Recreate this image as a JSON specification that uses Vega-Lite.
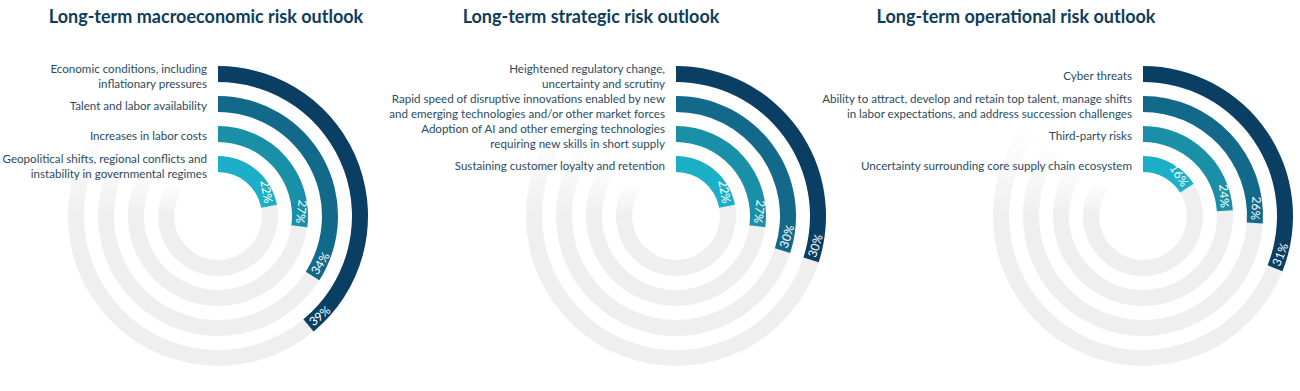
{
  "$schema": "https://vega.github.io/schema/vega-lite/v6.json",
  "padding": {"left": 2, "top": 9, "right": 0, "bottom": 0},
  "bounds": "flush",
  "spacing": 20,
  "config": {
    "view": {"stroke": null},
    "font": "Lato",
    "title": {"font": "Lato", "fontSize": 18, "fontWeight": "bold", "color": "#0e3d5c", "anchor": "middle", "offset": 15, "baseline": "alphabetic"}
  },
  "datasets": {
    "risks": [
      {"chart": "macro", "rank": 1, "label": "Economic conditions, including\ninflationary pressures", "value": 0.39},
      {"chart": "macro", "rank": 2, "label": "Talent and labor availability", "value": 0.34},
      {"chart": "macro", "rank": 3, "label": "Increases in labor costs", "value": 0.27},
      {"chart": "macro", "rank": 4, "label": "Geopolitical shifts, regional conflicts and\ninstability in governmental regimes", "value": 0.22},
      {"chart": "strategic", "rank": 1, "label": "Heightened regulatory change,\nuncertainty and scrutiny", "value": 0.30},
      {"chart": "strategic", "rank": 2, "label": "Rapid speed of disruptive innovations enabled by new\nand emerging technologies and/or other market forces", "value": 0.30},
      {"chart": "strategic", "rank": 3, "label": "Adoption of AI and other emerging technologies\nrequiring new skills in short supply", "value": 0.27},
      {"chart": "strategic", "rank": 4, "label": "Sustaining customer loyalty and retention", "value": 0.22},
      {"chart": "operational", "rank": 1, "label": "Cyber threats", "value": 0.31},
      {"chart": "operational", "rank": 2, "label": "Ability to attract, develop and retain top talent, manage shifts\nin labor expectations, and address succession challenges", "value": 0.26},
      {"chart": "operational", "rank": 3, "label": "Third-party risks", "value": 0.24},
      {"chart": "operational", "rank": 4, "label": "Uncertainty surrounding core supply chain ecosystem", "value": 0.16}
    ]
  },
  "hconcat": [
    {
      "width": 280, "height": 348,
      "data": {"name": "risks"},
      "transform": [{"filter": "datum.chart === 'macro'"}],
      "title": {"text": "Long-term macroeconomic risk outlook", "dx": -12},
      "encoding": {
        "radius": {"field": "rank", "type": "quantitative", "scale": {"type": "linear", "domain": [1, 4], "range": [142, 52]}}
      },
      "layer": [
        {"mark": {"type": "arc", "color": "#efefef", "radiusOffset": 8, "radius2Offset": -8},
         "encoding": {"theta": {"datum": 0, "type": "quantitative", "scale": {"domain": [0, 1], "range": [0, 6.283185307179586]}}, "theta2": {"datum": 0.75}, "radius2": {"field": "rank"}}},
        {"mark": {"type": "arc", "radiusOffset": 8, "radius2Offset": -8, "color": {"gradient": "linear", "x1": 0, "y1": 1, "x2": 0, "y2": 0, "stops": [{"offset": 0, "color": "#efefef"}, {"offset": 1, "color": "#ffffff"}]}},
         "encoding": {"theta": {"datum": 0.75, "type": "quantitative"}, "theta2": {"datum": 0.85}, "radius2": {"field": "rank"}}},
        {"mark": {"type": "arc", "radiusOffset": 8, "radius2Offset": -8},
         "encoding": {"theta": {"field": "value", "type": "quantitative", "stack": null}, "theta2": {"datum": 0}, "radius2": {"field": "rank"},
           "color": {"field": "rank", "type": "ordinal", "scale": {"domain": [1, 2, 3, 4], "range": ["#0a3f63", "#13698a", "#1a8fa8", "#1cb0c8"]}, "legend": null}}},
        {"transform": [{"filter": "!test(/\\n/, datum.label)"}],
         "mark": {"type": "text", "align": "right", "baseline": "middle", "dx": -11, "dy": 3, "lineBreak": "\n", "fontSize": 11.6, "lineHeight": 15, "color": "#2c4b5f"},
         "encoding": {"theta": {"datum": 0, "type": "quantitative"}, "text": {"field": "label"}}},
        {"transform": [{"filter": "test(/\\n/, datum.label)"}],
         "mark": {"type": "text", "align": "right", "baseline": "middle", "dx": -11, "dy": -4, "lineBreak": "\n", "fontSize": 11.6, "lineHeight": 15, "color": "#2c4b5f"},
         "encoding": {"theta": {"datum": 0, "type": "quantitative"}, "text": {"field": "label"}}},
        {"transform": [{"filter": "datum.value <= 0.28"}],
         "mark": {"type": "text", "align": "right", "baseline": "middle", "dx": -3, "fontSize": 12, "color": "#ffffff"},
         "encoding": {"theta": {"field": "value", "type": "quantitative", "stack": null}, "angle": {"field": "value", "type": "quantitative", "scale": {"domain": [0, 1], "range": [0, 360]}}, "text": {"field": "value", "type": "quantitative", "format": ".0%"}}},
        {"transform": [{"filter": "datum.value > 0.28"}],
         "mark": {"type": "text", "align": "left", "baseline": "middle", "dx": 3, "fontSize": 12, "color": "#ffffff"},
         "encoding": {"theta": {"field": "value", "type": "quantitative", "stack": null}, "angle": {"field": "value", "type": "quantitative", "scale": {"domain": [0.5, 1.5], "range": [0, 360]}}, "text": {"field": "value", "type": "quantitative", "format": ".0%"}}}
      ],
      "resolve": {"scale": {"angle": "independent"}}
    },
    {
      "width": 596, "height": 348,
      "data": {"name": "risks"},
      "transform": [{"filter": "datum.chart === 'strategic'"}],
      "title": {"text": "Long-term strategic risk outlook", "dx": -85},
      "encoding": {
        "radius": {"field": "rank", "type": "quantitative", "scale": {"type": "linear", "domain": [1, 4], "range": [142, 52]}}
      },
      "layer": [
        {"mark": {"type": "arc", "color": "#efefef", "radiusOffset": 8, "radius2Offset": -8},
         "encoding": {"theta": {"datum": 0, "type": "quantitative", "scale": {"domain": [0, 1], "range": [0, 6.283185307179586]}}, "theta2": {"datum": 0.75}, "radius2": {"field": "rank"}}},
        {"mark": {"type": "arc", "radiusOffset": 8, "radius2Offset": -8, "color": {"gradient": "linear", "x1": 0, "y1": 1, "x2": 0, "y2": 0, "stops": [{"offset": 0, "color": "#efefef"}, {"offset": 1, "color": "#ffffff"}]}},
         "encoding": {"theta": {"datum": 0.75, "type": "quantitative"}, "theta2": {"datum": 0.85}, "radius2": {"field": "rank"}}},
        {"mark": {"type": "arc", "radiusOffset": 8, "radius2Offset": -8},
         "encoding": {"theta": {"field": "value", "type": "quantitative", "stack": null}, "theta2": {"datum": 0}, "radius2": {"field": "rank"},
           "color": {"field": "rank", "type": "ordinal", "scale": {"domain": [1, 2, 3, 4], "range": ["#0a3f63", "#13698a", "#1a8fa8", "#1cb0c8"]}, "legend": null}}},
        {"transform": [{"filter": "!test(/\\n/, datum.label)"}],
         "mark": {"type": "text", "align": "right", "baseline": "middle", "dx": -11, "dy": 3, "lineBreak": "\n", "fontSize": 11.6, "lineHeight": 15, "color": "#2c4b5f"},
         "encoding": {"theta": {"datum": 0, "type": "quantitative"}, "text": {"field": "label"}}},
        {"transform": [{"filter": "test(/\\n/, datum.label)"}],
         "mark": {"type": "text", "align": "right", "baseline": "middle", "dx": -11, "dy": -4, "lineBreak": "\n", "fontSize": 11.6, "lineHeight": 15, "color": "#2c4b5f"},
         "encoding": {"theta": {"datum": 0, "type": "quantitative"}, "text": {"field": "label"}}},
        {"transform": [{"filter": "datum.value <= 0.28"}],
         "mark": {"type": "text", "align": "right", "baseline": "middle", "dx": -3, "fontSize": 12, "color": "#ffffff"},
         "encoding": {"theta": {"field": "value", "type": "quantitative", "stack": null}, "angle": {"field": "value", "type": "quantitative", "scale": {"domain": [0, 1], "range": [0, 360]}}, "text": {"field": "value", "type": "quantitative", "format": ".0%"}}},
        {"transform": [{"filter": "datum.value > 0.28"}],
         "mark": {"type": "text", "align": "left", "baseline": "middle", "dx": 3, "fontSize": 12, "color": "#ffffff"},
         "encoding": {"theta": {"field": "value", "type": "quantitative", "stack": null}, "angle": {"field": "value", "type": "quantitative", "scale": {"domain": [0.5, 1.5], "range": [0, 360]}}, "text": {"field": "value", "type": "quantitative", "format": ".0%"}}}
      ],
      "resolve": {"scale": {"angle": "independent"}}
    },
    {
      "width": 298, "height": 348,
      "data": {"name": "risks"},
      "transform": [{"filter": "datum.chart === 'operational'"}],
      "title": {"text": "Long-term operational risk outlook", "dx": -127},
      "encoding": {
        "radius": {"field": "rank", "type": "quantitative", "scale": {"type": "linear", "domain": [1, 4], "range": [142, 52]}}
      },
      "layer": [
        {"mark": {"type": "arc", "color": "#efefef", "radiusOffset": 8, "radius2Offset": -8},
         "encoding": {"theta": {"datum": 0, "type": "quantitative", "scale": {"domain": [0, 1], "range": [0, 6.283185307179586]}}, "theta2": {"datum": 0.75}, "radius2": {"field": "rank"}}},
        {"mark": {"type": "arc", "radiusOffset": 8, "radius2Offset": -8, "color": {"gradient": "linear", "x1": 0, "y1": 1, "x2": 0, "y2": 0, "stops": [{"offset": 0, "color": "#efefef"}, {"offset": 1, "color": "#ffffff"}]}},
         "encoding": {"theta": {"datum": 0.75, "type": "quantitative"}, "theta2": {"datum": 0.85}, "radius2": {"field": "rank"}}},
        {"mark": {"type": "arc", "radiusOffset": 8, "radius2Offset": -8},
         "encoding": {"theta": {"field": "value", "type": "quantitative", "stack": null}, "theta2": {"datum": 0}, "radius2": {"field": "rank"},
           "color": {"field": "rank", "type": "ordinal", "scale": {"domain": [1, 2, 3, 4], "range": ["#0a3f63", "#13698a", "#1a8fa8", "#1cb0c8"]}, "legend": null}}},
        {"transform": [{"filter": "!test(/\\n/, datum.label)"}],
         "mark": {"type": "text", "align": "right", "baseline": "middle", "dx": -11, "dy": 3, "lineBreak": "\n", "fontSize": 11.6, "lineHeight": 15, "color": "#2c4b5f"},
         "encoding": {"theta": {"datum": 0, "type": "quantitative"}, "text": {"field": "label"}}},
        {"transform": [{"filter": "test(/\\n/, datum.label)"}],
         "mark": {"type": "text", "align": "right", "baseline": "middle", "dx": -11, "dy": -4, "lineBreak": "\n", "fontSize": 11.6, "lineHeight": 15, "color": "#2c4b5f"},
         "encoding": {"theta": {"datum": 0, "type": "quantitative"}, "text": {"field": "label"}}},
        {"transform": [{"filter": "datum.value <= 0.28"}],
         "mark": {"type": "text", "align": "right", "baseline": "middle", "dx": -3, "fontSize": 12, "color": "#ffffff"},
         "encoding": {"theta": {"field": "value", "type": "quantitative", "stack": null}, "angle": {"field": "value", "type": "quantitative", "scale": {"domain": [0, 1], "range": [0, 360]}}, "text": {"field": "value", "type": "quantitative", "format": ".0%"}}},
        {"transform": [{"filter": "datum.value > 0.28"}],
         "mark": {"type": "text", "align": "left", "baseline": "middle", "dx": 3, "fontSize": 12, "color": "#ffffff"},
         "encoding": {"theta": {"field": "value", "type": "quantitative", "stack": null}, "angle": {"field": "value", "type": "quantitative", "scale": {"domain": [0.5, 1.5], "range": [0, 360]}}, "text": {"field": "value", "type": "quantitative", "format": ".0%"}}}
      ],
      "resolve": {"scale": {"angle": "independent"}}
    }
  ]
}
